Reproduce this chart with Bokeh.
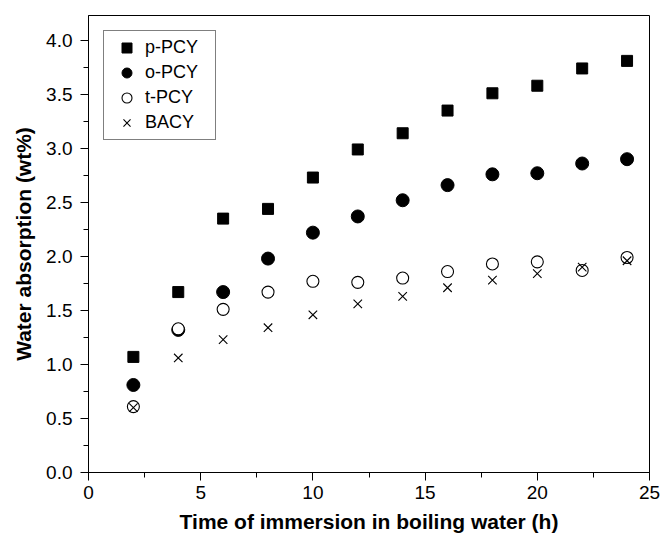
from bokeh.plotting import figure
from bokeh.models import Range1d, SingleIntervalTicker, PrintfTickFormatter, Legend, LegendItem
from bokeh.embed import file_html
from bokeh.resources import INLINE

time_h = [2, 4, 6, 8, 10, 12, 14, 16, 18, 20, 22, 24]
p_pcy = [1.07, 1.67, 2.35, 2.44, 2.73, 2.99, 3.14, 3.35, 3.51, 3.58, 3.74, 3.81]
o_pcy = [0.81, 1.32, 1.67, 1.98, 2.22, 2.37, 2.52, 2.66, 2.76, 2.77, 2.86, 2.90]
t_pcy = [0.61, 1.33, 1.51, 1.67, 1.77, 1.76, 1.80, 1.86, 1.93, 1.95, 1.87, 1.99]
bacy = [0.60, 1.06, 1.23, 1.34, 1.46, 1.56, 1.63, 1.71, 1.78, 1.84, 1.90, 1.96]

FONT = "Liberation Sans"

p = figure(width=661, height=535, output_backend="svg", toolbar_location=None,
           x_range=Range1d(0, 25), y_range=Range1d(0, 4.23))
p.min_border_left = 88
p.min_border_right = 12
p.min_border_top = 15
p.min_border_bottom = 63
p.xgrid.visible = False
p.ygrid.visible = False
p.outline_line_color = "black"
p.outline_line_width = 1
p.background_fill_color = "white"
p.border_fill_color = "white"

r1 = p.scatter(time_h, p_pcy, marker="square", size=11, fill_color="black", line_color="black")
r2 = p.scatter(time_h, o_pcy, marker="circle", size=13, fill_color="black", line_color="black")
r3 = p.scatter(time_h, t_pcy, marker="circle", size=12, fill_color="white", line_color="black", line_width=1.1)
r4 = p.scatter(time_h, bacy, marker="x", size=12, line_color="black", line_width=1.1)

p.xaxis.ticker = SingleIntervalTicker(interval=5, num_minor_ticks=2)
p.yaxis.ticker = SingleIntervalTicker(interval=0.5, num_minor_ticks=2)
p.yaxis.formatter = PrintfTickFormatter(format="%.1f")

for ax in (p.xaxis[0], p.yaxis[0]):
    ax.axis_line_color = "black"
    ax.major_tick_line_color = "black"
    ax.minor_tick_line_color = "black"
    ax.major_tick_out = 8
    ax.major_tick_in = 0
    ax.minor_tick_out = 5
    ax.minor_tick_in = 0
    ax.major_label_text_font = FONT
    ax.major_label_text_font_size = "19px"
    ax.major_label_text_color = "black"
    ax.axis_label_text_font = FONT
    ax.axis_label_text_font_size = "21px"
    ax.axis_label_text_font_style = "bold"
    ax.axis_label_text_color = "black"

p.xaxis.axis_label = "Time of immersion in boiling water (h)"
p.yaxis.axis_label = "Water absorption (wt%)"
p.xaxis.major_label_standoff = 5
p.xaxis.axis_label_standoff = 8
p.yaxis.major_label_standoff = 8
p.yaxis.axis_label_standoff = 8

legend = Legend(items=[
    LegendItem(label="p-PCY", renderers=[r1]),
    LegendItem(label="o-PCY", renderers=[r2]),
    LegendItem(label="t-PCY", renderers=[r3]),
    LegendItem(label="BACY", renderers=[r4]),
], location="top_left")
legend.margin = 15
legend.padding = 4
legend.spacing = 0
legend.label_height = 25
legend.glyph_height = 25
legend.glyph_width = 37
legend.label_standoff = 0
legend.label_width = 66
legend.label_text_font = FONT
legend.label_text_font_size = "18px"
legend.label_text_color = "black"
legend.border_line_color = "black"
legend.border_line_width = 1
legend.background_fill_alpha = 1
p.add_layout(legend)

open("out.html", "w").write(file_html(p, INLINE))
